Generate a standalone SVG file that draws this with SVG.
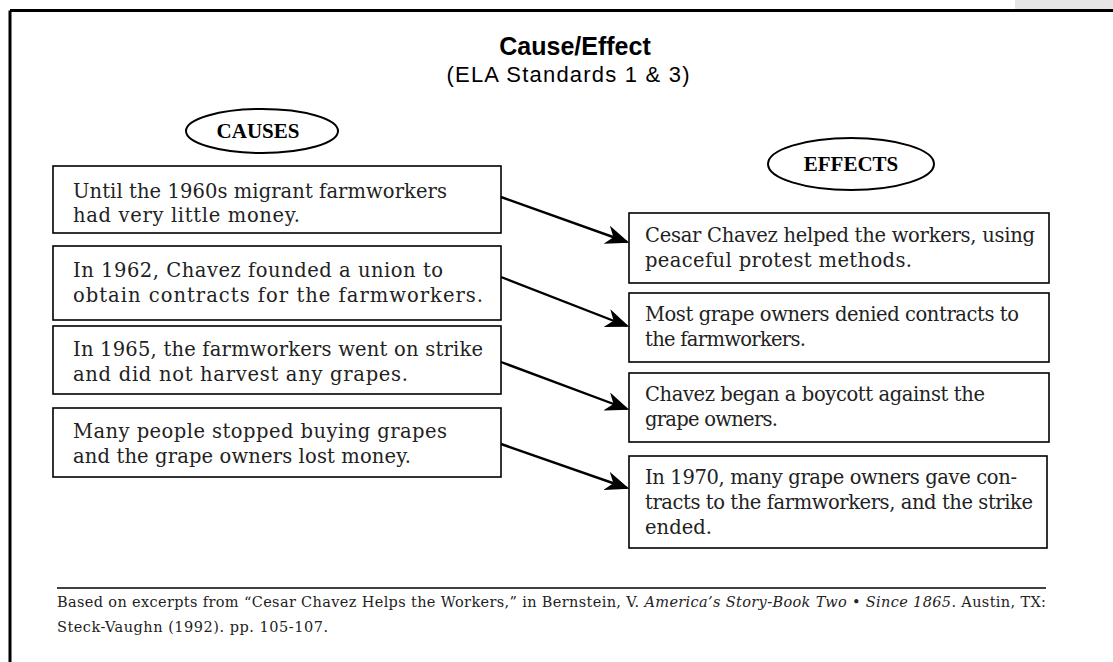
<svg xmlns="http://www.w3.org/2000/svg" width="1113" height="662" viewBox="0 0 1113 662">
<defs>
<style>
.box{fill:#fff;stroke:#000;stroke-width:1.6}
.oval{fill:#fff;stroke:#000;stroke-width:2}
.t{font-family:"DejaVu Serif","Liberation Serif",serif;font-size:19.5px;fill:#222}
.lab{font-family:"Liberation Serif","Times New Roman",serif;font-size:21px;font-weight:bold;fill:#000}
.title{font-family:"Liberation Sans",Arial,sans-serif;font-weight:bold;font-size:25px;fill:#000}
.sub{font-family:"Liberation Sans",Arial,sans-serif;font-size:22px;fill:#000}
.foot{font-family:"DejaVu Serif","Liberation Serif",serif;font-size:14.5px;fill:#222}
.conn{stroke:#000;stroke-width:2.4;fill:none}
</style>
<marker id="ah" markerWidth="10" markerHeight="8" refX="9" refY="4" orient="auto" markerUnits="strokeWidth"><path d="M0,0 L10,4 L0,8 L3,4 Z" fill="#000"/></marker>
</defs>
<rect x="0" y="0" width="1113" height="662" fill="#fff"/>
<rect x="1015" y="0" width="98" height="9" fill="#e6e6e6"/>
<path d="M10,10.5 H1113 M10,10.5 V662" stroke="#000" stroke-width="3" fill="none"/>
<g id="title">
<text class="title" x="575" y="55" text-anchor="middle">Cause/Effect</text>
<text class="sub" x="568" y="82" text-anchor="middle" textLength="243" lengthAdjust="spacing">(ELA Standards 1 &amp; 3)</text>
</g>
<g id="causes-label"><ellipse class="oval" cx="262" cy="131" rx="76" ry="22"/><text class="lab" x="258" y="138" text-anchor="middle">CAUSES</text></g>
<g id="effects-label"><ellipse class="oval" cx="851" cy="164" rx="83" ry="26"/><text class="lab" x="851" y="171" text-anchor="middle">EFFECTS</text></g>
<g id="cause1"><rect class="box" x="53" y="166" width="448" height="67"/><text class="t"><tspan x="73" y="198" textLength="374" lengthAdjust="spacing">Until the 1960s migrant farmworkers</tspan><tspan x="73" y="222" textLength="227" lengthAdjust="spacing">had very little money.</tspan></text></g>
<g id="cause2"><rect class="box" x="53" y="246" width="448" height="74"/><text class="t"><tspan x="73" y="277" textLength="370" lengthAdjust="spacing">In 1962, Chavez founded a union to</tspan><tspan x="73" y="302" textLength="410" lengthAdjust="spacing">obtain contracts for the farmworkers.</tspan></text></g>
<g id="cause3"><rect class="box" x="53" y="326" width="448" height="68"/><text class="t"><tspan x="73" y="356" textLength="410" lengthAdjust="spacing">In 1965, the farmworkers went on strike</tspan><tspan x="73" y="381" textLength="335" lengthAdjust="spacing">and did not harvest any grapes.</tspan></text></g>
<g id="cause4"><rect class="box" x="53" y="408" width="448" height="69"/><text class="t"><tspan x="73" y="438" textLength="374" lengthAdjust="spacing">Many people stopped buying grapes</tspan><tspan x="73" y="463" textLength="338" lengthAdjust="spacing">and the grape owners lost money.</tspan></text></g>
<g id="effect1"><rect class="box" x="629" y="213" width="420" height="70"/><text class="t"><tspan x="645" y="242" textLength="390" lengthAdjust="spacing">Cesar Chavez helped the workers, using</tspan><tspan x="645" y="267" textLength="267" lengthAdjust="spacing">peaceful protest methods.</tspan></text></g>
<g id="effect2"><rect class="box" x="629" y="293" width="420" height="69"/><text class="t"><tspan x="645" y="321" textLength="374" lengthAdjust="spacing">Most grape owners denied contracts to</tspan><tspan x="645" y="346" textLength="161" lengthAdjust="spacing">the farmworkers.</tspan></text></g>
<g id="effect3"><rect class="box" x="629" y="373" width="420" height="69"/><text class="t"><tspan x="645" y="401" textLength="340" lengthAdjust="spacing">Chavez began a boycott against the</tspan><tspan x="645" y="426" textLength="133" lengthAdjust="spacing">grape owners.</tspan></text></g>
<g id="effect4"><rect class="box" x="629" y="456" width="418" height="92"/><text class="t"><tspan x="645" y="484" textLength="372" lengthAdjust="spacing">In 1970, many grape owners gave con-</tspan><tspan x="645" y="509" textLength="388" lengthAdjust="spacing">tracts to the farmworkers, and the strike</tspan><tspan x="645" y="534" textLength="67" lengthAdjust="spacing">ended.</tspan></text></g>
<g id="connectors">
<line class="conn" x1="501" y1="197" x2="627" y2="242" marker-end="url(#ah)"/>
<line class="conn" x1="501" y1="277" x2="627" y2="326" marker-end="url(#ah)"/>
<line class="conn" x1="501" y1="362" x2="627" y2="409" marker-end="url(#ah)"/>
<line class="conn" x1="501" y1="444" x2="627" y2="488" marker-end="url(#ah)"/>
</g>
<g id="footer">
<line x1="57" y1="588" x2="1046" y2="588" stroke="#000" stroke-width="1.5"/>
<text class="foot" x="57" y="607" textLength="989" lengthAdjust="spacing">Based on excerpts from “Cesar Chavez Helps the Workers,” in Bernstein, V. <tspan font-style="italic">America’s Story-Book Two</tspan> • <tspan font-style="italic">Since 1865</tspan>. Austin, TX:</text>
<text class="foot" x="57" y="632" textLength="271" lengthAdjust="spacing">Steck-Vaughn (1992). pp. 105-107.</text>
</g>
</svg>
